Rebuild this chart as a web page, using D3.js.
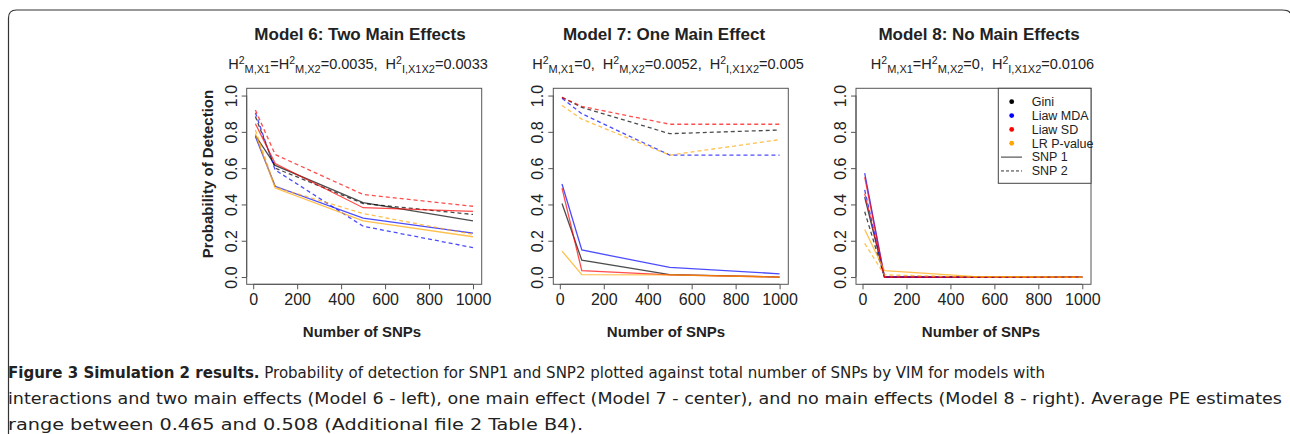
<!DOCTYPE html>
<html><head><meta charset="utf-8">
<script src="https://cdn.jsdelivr.net/npm/d3@7"></script>
<style>
html,body{margin:0;padding:0;background:#fff;}
svg{display:block;}
</style></head>
<body>
<svg id="c" width="1290" height="434"></svg>
<script>
// ---------- data ----------
const snpCounts = [10, 100, 500, 1000];
const xTicks = [0, 200, 400, 600, 800, 1000];
const yTicks = [0, 0.2, 0.4, 0.6, 0.8, 1.0];
const methods = ["Gini", "Liaw MDA", "Liaw SD", "LR P-value"];
const snpLabels = ["SNP 1", "SNP 2"];
const panelTitles = ["Model 6: Two Main Effects", "Model 7: One Main Effect", "Model 8: No Main Effects"];

// rows: Gini, Liaw MDA, Liaw SD, LR P-value
const model6Snp1 = [[0.78, 0.615, 0.41, 0.31], [0.775, 0.50, 0.325, 0.242], [0.845, 0.625, 0.382, 0.362], [0.79, 0.49, 0.31, 0.222]];
const model6Snp2 = [[0.885, 0.60, 0.405, 0.345], [0.905, 0.59, 0.28, 0.162], [0.92, 0.675, 0.455, 0.39], [0.81, 0.495, 0.35, 0.235]];
const model7Snp1 = [[0.405, 0.093, 0.013, 0.0], [0.513, 0.149, 0.053, 0.018], [0.49, 0.035, 0.012, 0.0], [0.143, 0.013, 0.012, 0.0]];
const model7Snp2 = [[0.99, 0.935, 0.79, 0.81], [0.985, 0.90, 0.672, 0.672], [0.99, 0.94, 0.842, 0.842], [0.945, 0.87, 0.672, 0.757]];
const model8Snp1 = [[0.44, 0.0, 0.0, 0.0], [0.572, 0.0, 0.0, 0.0], [0.55, 0.0, 0.0, 0.0], [0.262, 0.035, 0.004, 0.0]];
const model8Snp2 = [[0.36, 0.0, 0.0, 0.0], [0.48, 0.0, 0.0, 0.0], [0.46, 0.0, 0.0, 0.0], [0.185, 0.012, 0.0, 0.0]];

const captionBold = "Figure 3 Simulation 2 results.";
const captionLines = [
  " Probability of detection for SNP1 and SNP2 plotted against total number of SNPs by VIM for models with",
  "interactions and two main effects (Model 6 - left), one main effect (Model 7 - center), and no main effects (Model 8 - right). Average PE estimates",
  "range between 0.465 and 0.508 (Additional file 2 Table B4)."
];

// ---------- styles / layout ----------
const methodColors = ["#000000", "#0000ff", "#ff0000", "#ffa500"];
const panelLefts = [246.7, 553.3, 856];
const boxW = 235, boxTop = 88.3, boxBottom = 284.3;
const titleCx = [360, 664, 979];
const subCx = [358, 668, 982.5];
const FONT = "'Liberation Sans', Arial, sans-serif";
const SP2 = "\u00a0\u00a0";

const svg = d3.select("#c");

// figure frame
svg.append("path")
  .attr("d", "M8.5,440 L8.5,18 Q8.5,10 16.5,10 L1282,10 Q1289,10 1290,13")
  .attr("fill", "none").attr("stroke", "#333").attr("stroke-width", 1.2);

const panels = [
  {snp1: model6Snp1, snp2: model6Snp2},
  {snp1: model7Snp1, snp2: model7Snp2},
  {snp1: model8Snp1, snp2: model8Snp2}
];

const subtitles = [
  [["H","n"],["2","sup"],["M,X1","sub"],["=H","n"],["2","sup"],["M,X2","sub"],["=0.0035," + SP2 + "H","n"],["2","sup"],["I,X1X2","sub"],["=0.0033","n"]],
  [["H","n"],["2","sup"],["M,X1","sub"],["=0," + SP2 + "H","n"],["2","sup"],["M,X2","sub"],["=0.0052," + SP2 + "H","n"],["2","sup"],["I,X1X2","sub"],["=0.005","n"]],
  [["H","n"],["2","sup"],["M,X1","sub"],["=H","n"],["2","sup"],["M,X2","sub"],["=0," + SP2 + "H","n"],["2","sup"],["I,X1X2","sub"],["=0.0106","n"]]
];

panels.forEach((p, i) => {
  const left = panelLefts[i], right = left + boxW;
  const xs = d3.scaleLinear().domain([10 - 0.04 * 990, 1000 + 0.04 * 990]).range([left, right]);
  const ys = d3.scaleLinear().domain([-0.04, 1.04]).range([boxBottom, boxTop]);
  const g = svg.append("g");

  // box
  g.append("rect").attr("x", left).attr("y", boxTop).attr("width", boxW).attr("height", boxBottom - boxTop)
    .attr("fill", "none").attr("stroke", "#555").attr("stroke-width", 1);

  // axes
  const xAxis = d3.axisBottom(xs).tickValues(xTicks).tickSize(5).tickPadding(4).tickFormat(d3.format("d"));
  const gx = g.append("g").attr("transform", `translate(0,${boxBottom})`).call(xAxis);
  gx.select(".domain").attr("d", `M${xs(0)},0H${xs(1000)}`).attr("stroke", "#555");
  gx.selectAll(".tick line").attr("stroke", "#555");
  gx.selectAll(".tick text").attr("font-family", FONT).attr("font-size", 16).attr("fill", "#222").attr("dy", "0.71em");

  const yAxis = d3.axisLeft(ys).tickValues(yTicks).tickSize(5).tickFormat(d3.format(".1f"));
  const gy = g.append("g").attr("transform", `translate(${left},0)`).call(yAxis);
  gy.select(".domain").attr("d", `M0,${ys(0)}V${ys(1)}`).attr("stroke", "#555");
  gy.selectAll(".tick line").attr("stroke", "#555");
  gy.selectAll(".tick text").attr("font-family", FONT).attr("font-size", 16).attr("fill", "#222")
    .attr("text-anchor", "middle").attr("x", 0).attr("dy", 0)
    .attr("transform", "translate(-10,0) rotate(-90)");

  // lines
  const line = d3.line().x((d, j) => xs(snpCounts[j])).y(d => ys(d));
  methods.forEach((m, k) => {
    g.append("path").datum(p.snp1[k]).attr("d", line).attr("fill", "none")
      .attr("stroke", methodColors[k]).attr("stroke-opacity", 0.7).attr("stroke-width", 1.3);
    g.append("path").datum(p.snp2[k]).attr("d", line).attr("fill", "none")
      .attr("stroke", methodColors[k]).attr("stroke-opacity", 0.7).attr("stroke-width", 1.3)
      .attr("stroke-dasharray", "4,3");
  });

  // title
  svg.append("text").attr("x", titleCx[i]).attr("y", 40).attr("text-anchor", "middle")
    .attr("font-family", FONT).attr("font-weight", "bold").attr("font-size", 17).attr("fill", "#222")
    .text(panelTitles[i]);

  // subtitle with super/subscripts
  const st = svg.append("text").attr("x", subCx[i]).attr("y", 69).attr("text-anchor", "middle")
    .attr("font-family", FONT).attr("fill", "#222");
  let prev = "n";
  subtitles[i].forEach(([t, k]) => {
    const ts = st.append("tspan").text(t);
    if (k === "sup") { ts.attr("font-size", 10.5).attr("dy", -5.5); }
    else if (k === "sub") { ts.attr("font-size", 11).attr("dy", 9.5); }
    else {
      ts.attr("font-size", 14.5);
      if (prev === "sub") ts.attr("dy", -4);
      else if (prev === "sup") ts.attr("dy", 5.5);
    }
    prev = k;
  });

  // x axis title
  svg.append("text").attr("x", titleCx[i] + 2).attr("y", 337).attr("text-anchor", "middle")
    .attr("font-family", FONT).attr("font-weight", "bold").attr("font-size", 15).attr("fill", "#222")
    .text("Number of SNPs");
});

// y axis title (panel 1 only)
svg.append("text").attr("transform", "translate(208,174) rotate(-90)").attr("text-anchor", "middle")
  .attr("dy", "0.35em").attr("font-family", FONT).attr("font-weight", "bold").attr("font-size", 15)
  .attr("fill", "#222").text("Probability of Detection");

// legend in panel 3
const lg = svg.append("g");
const lgLeft = 998.3, lgRight = panelLefts[2] + boxW;
lg.append("rect").attr("x", lgLeft).attr("y", boxTop).attr("width", lgRight - lgLeft).attr("height", 95)
  .attr("fill", "#fff").attr("stroke", "#444").attr("stroke-width", 1);
const rowY = i => 101.7 + i * 13.85;
methods.forEach((m, k) => {
  lg.append("circle").attr("cx", 1011.7).attr("cy", rowY(k)).attr("r", 2.4).attr("fill", methodColors[k]);
  lg.append("text").attr("x", 1031.7).attr("y", rowY(k)).attr("dy", "0.35em")
    .attr("font-family", FONT).attr("font-size", 12.5).attr("fill", "#222").text(m);
});
snpLabels.forEach((s, k) => {
  const yy = rowY(4 + k);
  lg.append("line").attr("x1", 1001).attr("x2", 1022).attr("y1", yy).attr("y2", yy)
    .attr("stroke", "#333").attr("stroke-width", 1).attr("stroke-dasharray", k ? "3,2" : null);
  lg.append("text").attr("x", 1031.7).attr("y", yy).attr("dy", "0.35em")
    .attr("font-family", FONT).attr("font-size", 12.5).attr("fill", "#222").text(s);
});

// caption
const CFONT = "'Liberation Sans Narrow', 'DejaVu Sans Condensed', 'Open Sans', sans-serif";
const capWidths = [1037, 1274, 575];
const capY = [378, 404, 430];
captionLines.forEach((ln, i) => {
  const t = svg.append("text").attr("x", 8).attr("y", capY[i])
    .attr("font-family", CFONT).attr("font-size", 16.5).attr("fill", "#222")
    .attr("textLength", capWidths[i]).attr("lengthAdjust", "spacingAndGlyphs");
  if (i === 0) t.append("tspan").attr("font-weight", "bold").text(captionBold);
  t.append("tspan").text(ln);
});
</script>
</body></html>
